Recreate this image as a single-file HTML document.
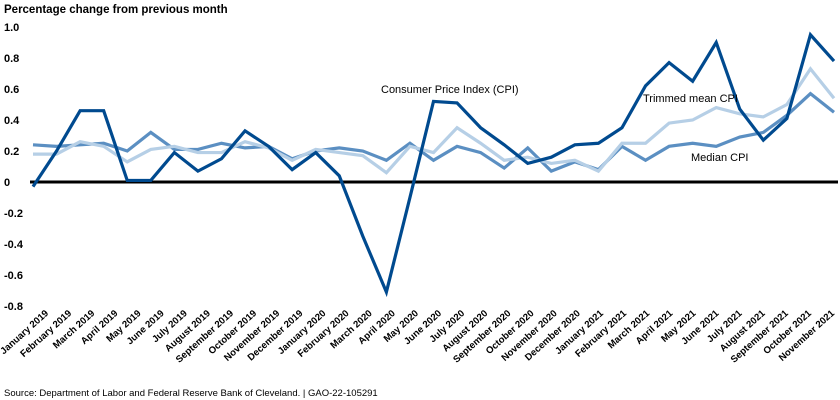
<!DOCTYPE html>
<html><head><meta charset="utf-8"><style>
body{margin:0;background:#fff;}
svg{display:block;font-family:"Liberation Sans",Arial,sans-serif;}
</style></head><body>
<svg id="chart" width="840" height="400">
<text x="4" y="13" font-size="11.5" font-weight="bold" fill="#000">Percentage change from previous month</text>
<g id="yt"></g><g id="lines"></g><g id="xt"></g>
<text x="381" y="93" font-size="11" fill="#000">Consumer Price Index (CPI)</text>
<text x="643" y="102" font-size="11" fill="#000">Trimmed mean CPI</text>
<text x="691" y="161" font-size="11" fill="#000">Median CPI</text>
<text x="4" y="396" font-size="9.5" fill="#000">Source: Department of Labor and Federal Reserve Bank of Cleveland.  |  GAO-22-105291</text>
</svg>
<script>
const months=["January 2019","February 2019","March 2019","April 2019","May 2019","June 2019","July 2019","August 2019","September 2019","October 2019","November 2019","December 2019","January 2020","February 2020","March 2020","April 2020","May 2020","June 2020","July 2020","August 2020","September 2020","October 2020","November 2020","December 2020","January 2021","February 2021","March 2021","April 2021","May 2021","June 2021","July 2021","August 2021","September 2021","October 2021","November 2021"];
const cpi=[-0.03,0.2,0.46,0.46,0.01,0.01,0.19,0.07,0.15,0.33,0.23,0.08,0.19,0.04,-0.35,-0.71,-0.1,0.52,0.51,0.35,0.24,0.12,0.16,0.24,0.25,0.35,0.62,0.77,0.65,0.9,0.47,0.27,0.41,0.95,0.78];
const trimmed=[0.18,0.18,0.26,0.23,0.13,0.21,0.23,0.19,0.19,0.26,0.22,0.14,0.21,0.19,0.17,0.06,0.23,0.19,0.35,0.25,0.14,0.16,0.12,0.14,0.07,0.25,0.25,0.38,0.4,0.48,0.44,0.42,0.5,0.73,0.54];
const median=[0.24,0.23,0.24,0.25,0.2,0.32,0.21,0.21,0.25,0.22,0.23,0.15,0.2,0.22,0.2,0.14,0.25,0.14,0.23,0.19,0.09,0.22,0.07,0.13,0.08,0.23,0.14,0.23,0.25,0.23,0.29,0.32,0.43,0.57,0.45];
const yTicks=[1.0,0.8,0.6,0.4,0.2,0,-0.2,-0.4,-0.6,-0.8];
const yTickLabels=["1.0","0.8","0.6","0.4","0.2","0","-0.2","-0.4","-0.6","-0.8"];
const NS="http://www.w3.org/2000/svg";
const xS=i=>33+i*(834-33)/(months.length-1);
const yS=v=>182-v*155;
function mk(t,a,p){const e=document.createElementNS(NS,t);for(const k in a)e.setAttribute(k,a[k]);p.appendChild(e);return e;}
const yt=document.getElementById('yt');
yTicks.forEach((v,i)=>{const t=mk('text',{x:4,y:yS(v)+4,'font-size':11,'font-weight':'bold',fill:'#000'},yt);t.textContent=yTickLabels[i];

});
const lg=document.getElementById('lines');
const z=mk('line',{x1:30,x2:838,y1:yS(0),y2:yS(0),stroke:'#000','stroke-width':3},lg);


function series(d,c,n){const p=mk('polyline',{points:d.map((v,i)=>xS(i)+','+yS(v)).join(' '),fill:'none',stroke:c,'stroke-width':3.2,'stroke-linejoin':'miter'},lg);

}
series(median,'#5b8fc2','median-cpi-line');
series(trimmed,'#b6cfe6','trimmed-mean-cpi-line');
series(cpi,'#004a8f','cpi-line');
const xt=document.getElementById('xt');
const lx=i=>49+i*(835-49)/(months.length-1);
months.forEach((m,i)=>{const x=lx(i),y=314;const t=mk('text',{x:x,y:y,'font-size':9.6,'font-weight':'bold','text-anchor':'end',fill:'#000',transform:`rotate(-42 ${x} ${y})`},xt);t.textContent=m;

});
</script>
</body></html>
